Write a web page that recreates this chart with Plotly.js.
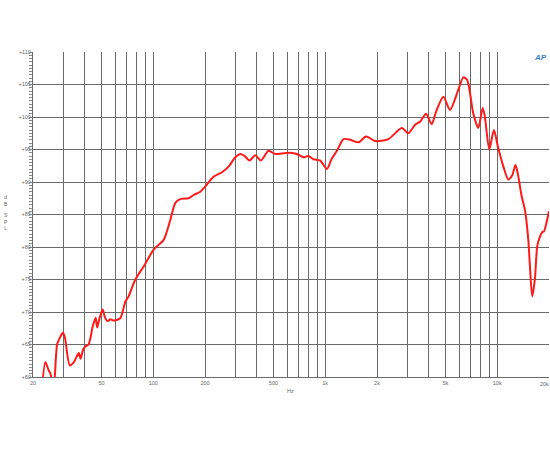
<!DOCTYPE html>
<html>
<head>
<meta charset="utf-8">
<script src="https://cdn.plot.ly/plotly-3.0.1.min.js"></script>
<style>html,body{margin:0;padding:0;background:#fff;}#chart{width:550px;height:450px;}</style>
</head>
<body>
<div id="chart"></div>
<script>
// Frequency (Hz) and SPL (dB)
const freq = [22.6, 23.6, 24.7, 25.2, 26.4, 27.6, 28.6, 29.8, 30.6, 32.7, 34.6, 36.9, 37.8, 39.1, 40.3, 42.1, 44.5, 46.3, 47.2, 48.8, 50.9, 52.2, 54.4, 56.3, 58.6, 62, 64.6, 68.9, 71.9, 78.7, 88, 100.6, 115, 125.8, 134.5, 144.6, 160.6, 171.7, 187.9, 200.5, 224, 251, 275, 300, 322, 343, 363, 392, 423, 468, 512, 560, 626, 684, 748, 799, 855, 935, 1022, 1093, 1169, 1277, 1396, 1560, 1729, 1950, 2330, 2787, 3043, 3330, 3570, 3855, 4160, 4407, 4862, 5315, 5940, 6350, 6690, 6946, 7250, 7760, 8230, 8470, 8990, 9570, 10080, 10850, 11590, 12200, 12770, 13150, 13870, 14490, 15160, 15500, 15970, 16550, 17080, 17720, 18300, 18700, 19400, 20000];
const spl = [58.5, 62.3, 61.0, 60.6, 58.5, 65.0, 66.0, 66.8, 66.2, 61.8, 62.3, 63.7, 62.8, 64.2, 64.7, 65.0, 67.8, 69.1, 67.6, 69.1, 70.4, 69.3, 68.6, 68.9, 68.7, 68.8, 69.1, 71.6, 72.4, 75.0, 77.0, 79.6, 81.1, 84.2, 86.8, 87.4, 87.5, 88.0, 88.5, 89.3, 90.8, 91.5, 92.4, 93.8, 94.3, 93.9, 93.3, 94.1, 93.3, 94.8, 94.3, 94.4, 94.5, 94.3, 93.8, 94.0, 93.5, 93.3, 92.0, 93.6, 94.8, 96.6, 96.5, 96.1, 97.0, 96.3, 96.6, 98.3, 97.5, 98.8, 99.3, 100.5, 98.9, 100.8, 103.1, 101.1, 104.2, 106.1, 105.7, 103.7, 100.6, 98.3, 101.4, 100.1, 95.0, 98.0, 95.5, 92.4, 90.4, 91.0, 92.6, 91.4, 87.8, 85.7, 81.1, 77.0, 72.4, 75.0, 80.1, 81.6, 82.3, 82.4, 83.9, 85.5];

// Axis ticks
const gridFreqs = [20,30,40,50,60,70,80,90,100,200,300,400,500,600,700,800,900,1000,2000,3000,4000,5000,6000,7000,8000,9000,10000,20000];
const labeledFreqs = {20:'20',50:'50',100:'100',200:'200',500:'500',1000:'1k',2000:'2k',5000:'5k',10000:'10k'};
const xTickText = gridFreqs.map(f => labeledFreqs[f] || '');
const yTickVals = [60,65,70,75,80,85,90,95,100,105,110];
const yTickText = yTickVals.map(v => '+' + v);
const yTitleParts = ['d<br>B', 'S<br>P<br>L'];
const yTitleCenters = [201, 222];

const gray = '#666';
const font = {family: 'Liberation Sans, Arial, sans-serif', size: 5.5, color: gray};

const annotations = [
  {xref:'paper', yref:'paper', x:1.003, y:-0.006, xanchor:'right', yanchor:'top', text:'20k', showarrow:false, font:font},
  {xref:'paper', yref:'paper', x:(290-33)/516, y:(377.5-392)/325.5, xanchor:'center', yanchor:'middle', text:'Hz', showarrow:false, font:font},
  {xref:'paper', yref:'paper', x:(540-33)/516, y:(377.5-58)/325.5, xanchor:'center', yanchor:'middle', text:'<b><i>AP</i></b>', showarrow:false, font:{family:'Liberation Sans, Arial, sans-serif', size:8, color:'#2f7fd8'}}
];
yTitleParts.forEach((t, i) => {
  annotations.push({xref:'paper', yref:'paper', x:(6-33)/516, y:(377.5-yTitleCenters[i])/325.5, xanchor:'center', yanchor:'middle', text:t, borderpad:0, showarrow:false, font:{family:'Liberation Sans, Arial, sans-serif', size:5, color:gray}});
});

Plotly.newPlot('chart', [{
  x: freq, y: spl, type: 'scatter', mode: 'lines',
  line: {color: '#ff1a1a', width: 2, shape: 'spline', smoothing: 0.7},
  hoverinfo: 'skip'
}], {
  width: 550, height: 450,
  margin: {l: 33, r: 1, t: 52, b: 72.5, pad: 0},
  paper_bgcolor: '#fff', plot_bgcolor: '#fff',
  showlegend: false,
  xaxis: {
    type: 'log', range: [Math.log10(20), Math.log10(20000)],
    tickmode: 'array', tickvals: gridFreqs, ticktext: xTickText,
    ticks: '', tickfont: font,
    showgrid: true, gridcolor: '#6a6a6a', gridwidth: 1,
    zeroline: false, showline: true, linecolor: '#6a6a6a', linewidth: 1,
    fixedrange: true
  },
  yaxis: {
    range: [60, 110],
    tickmode: 'array', tickvals: yTickVals, ticktext: yTickText,
    ticks: '', tickfont: font,
    showgrid: true, gridcolor: '#6a6a6a', gridwidth: 1,
    zeroline: false, showline: true, linecolor: '#6a6a6a', linewidth: 1,
    minor: {dtick: 0.5, ticks: 'outside', ticklen: 3, tickcolor: '#888', tickwidth: 1, showgrid: false},
    fixedrange: true
  },
  annotations: annotations
}, {staticPlot: true, displayModeBar: false});
</script>
</body>
</html>
